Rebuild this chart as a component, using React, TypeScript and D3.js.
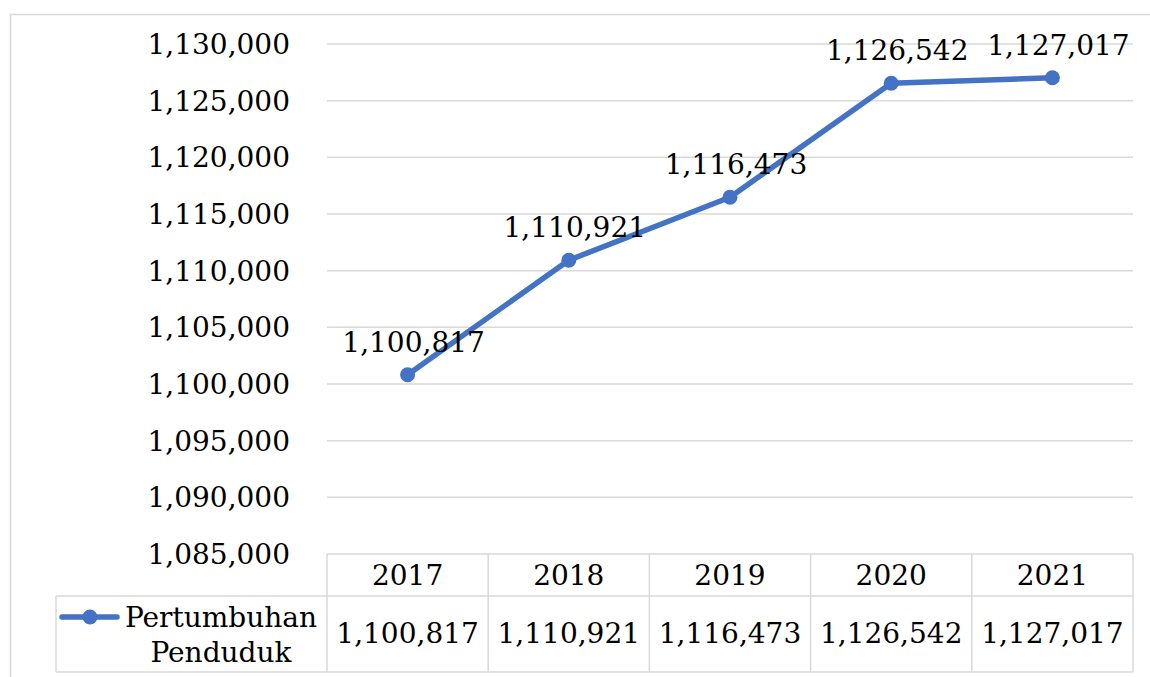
import React from "react";
import * as d3 from "d3";

const years = ["2017", "2018", "2019", "2020", "2021"];
const values = [1100817, 1110921, 1116473, 1126542, 1127017];
const yTicks = [1085000, 1090000, 1095000, 1100000, 1105000, 1110000, 1115000, 1120000, 1125000, 1130000];
const seriesName = ["Pertumbuhan", "Penduduk"];

const W = 1150;
const H = 677;
const FONT = "'DejaVu Serif', serif";
const BLUE = "#4472C4";
const GRID = "#d9d9d9";

export default function App() {
  const x = d3.scaleBand<string>().domain(years).range([327, 1133]);
  const y = d3.scaleLinear().domain([1085000, 1130000]).range([554, 44]);
  const fmt = d3.format(",");
  const line = d3
    .line<number>()
    .x((_, i) => (x(years[i]) as number) + x.bandwidth() / 2)
    .y((d) => y(d));
  const x0 = 327;
  const x1 = 1133;
  const headTop = 554;
  const headBot = 596;
  const rowBot = 672;
  const legLeft = 56;
  return (
    <div style={{ position: "absolute", left: 0, top: 0 }}>
      <svg width={W} height={H} style={{ display: "block", fontFamily: FONT }}>
        <rect x={0} y={0} width={W} height={H} fill="#fff" />
        <rect x={10.5} y={14.5} width={W + 10} height={H + 10} fill="none" stroke={GRID} strokeWidth={1.5} />
        {yTicks.map((t) => (
          <g key={t}>
            {t !== 1085000 && (
              <line x1={x0} x2={x1} y1={y(t)} y2={y(t)} stroke={GRID} strokeWidth={1.5} />
            )}
            <text x={290} y={y(t) + 10} textAnchor="end" fontSize={28} fill="#000">
              {fmt(t)}
            </text>
          </g>
        ))}
        {/* table */}
        <g stroke={GRID} strokeWidth={1.5} fill="none">
          <line x1={x0} x2={x1} y1={headTop} y2={headTop} />
          <line x1={legLeft} x2={x1} y1={headBot} y2={headBot} />
          <line x1={legLeft} x2={x1} y1={rowBot} y2={rowBot} />
          <line x1={legLeft} x2={legLeft} y1={headBot} y2={rowBot} />
          {years.map((yr) => (
            <line key={yr} x1={x(yr)} x2={x(yr)} y1={headTop} y2={rowBot} />
          ))}
          <line x1={x1} x2={x1} y1={headTop} y2={rowBot} />
        </g>
        {years.map((yr, i) => (
          <g key={yr}>
            <text x={(x(yr) as number) + x.bandwidth() / 2} y={585} textAnchor="middle" fontSize={28}>
              {yr}
            </text>
            <text x={(x(yr) as number) + x.bandwidth() / 2} y={643} textAnchor="middle" fontSize={28}>
              {fmt(values[i])}
            </text>
          </g>
        ))}
        <line x1={62} x2={117} y1={617} y2={617} stroke={BLUE} strokeWidth={5.5} strokeLinecap="round" />
        <circle cx={90} cy={617} r={7.5} fill={BLUE} />
        <text x={221} y={627} textAnchor="middle" fontSize={28}>
          {seriesName[0]}
        </text>
        <text x={221} y={662} textAnchor="middle" fontSize={28}>
          {seriesName[1]}
        </text>
        {/* series */}
        <path d={line(values) || ""} fill="none" stroke={BLUE} strokeWidth={5.5} strokeLinejoin="round" strokeLinecap="round" />
        {values.map((v, i) => (
          <circle key={i} cx={(x(years[i]) as number) + x.bandwidth() / 2} cy={y(v)} r={7.5} fill={BLUE} />
        ))}
        {values.map((v, i) => (
          <text
            key={"l" + i}
            x={(x(years[i]) as number) + x.bandwidth() / 2 + 6}
            y={y(v) - 23}
            textAnchor="middle"
            fontSize={28}
          >
            {fmt(v)}
          </text>
        ))}
      </svg>
    </div>
  );
}
